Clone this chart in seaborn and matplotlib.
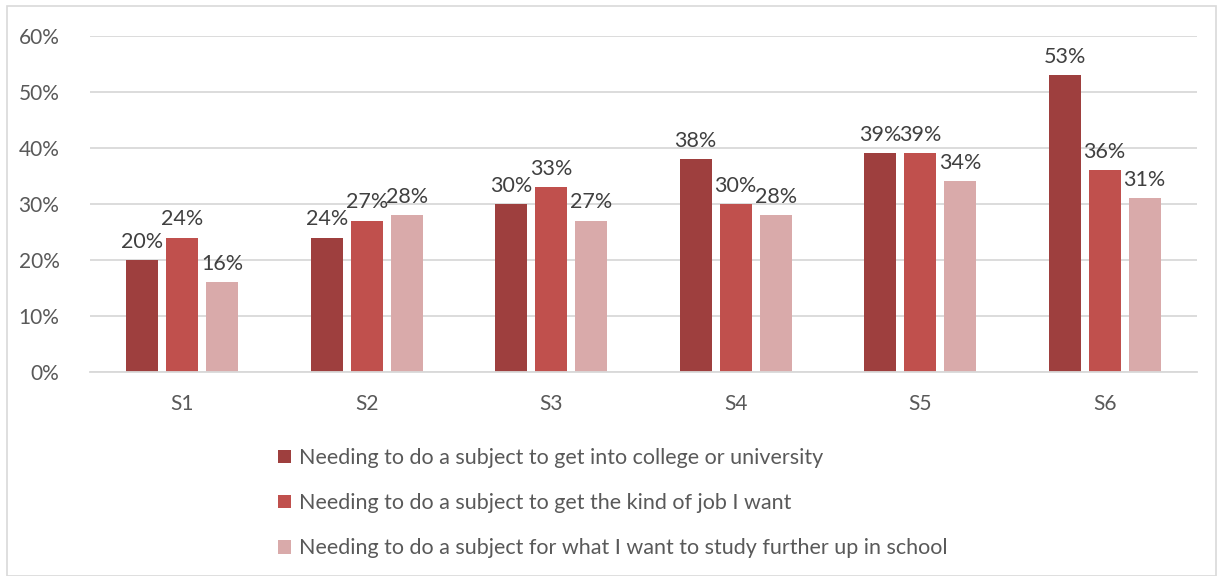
import matplotlib
matplotlib.use("Agg")
import matplotlib.pyplot as plt
import seaborn as sns
import pandas as pd
from matplotlib.patches import Rectangle
from matplotlib.ticker import PercentFormatter

categories = ["S1", "S2", "S3", "S4", "S5", "S6"]
series_names = [
    "Needing to do a subject to get into college or university",
    "Needing to do a subject to get the kind of job I want",
    "Needing to do a subject for what I want to study further up in school",
]
college = [20, 24, 30, 38, 39, 53]
job = [24, 27, 33, 30, 39, 36]
study = [16, 28, 27, 28, 34, 31]
colors = ["#9E3F3E", "#C0504D", "#D9AAAA"]

rows = []
for name, vals in zip(series_names, [college, job, study]):
    for c, v in zip(categories, vals):
        rows.append({"cat": c, "series": name, "value": v})
df = pd.DataFrame(rows)

sns.set_theme(style="white")
plt.rcParams["font.family"] = ["Lato", "DejaVu Sans"]

fig = plt.figure(figsize=(12.23, 5.76), dpi=100)
ax = fig.add_axes([0.0736, 0.354, 0.905, 0.584])

sns.barplot(data=df, x="cat", y="value", hue="series", order=categories,
            hue_order=series_names, palette=colors, width=0.65, gap=0.2,
            saturation=1, ax=ax, legend=True, errorbar=None, linewidth=0)

for cont in ax.containers:
    ax.bar_label(cont, labels=[f"{int(v)}%" for v in cont.datavalues],
                 padding=6, fontsize=15.5, color="#404040")

ax.set_ylim(0, 60)
ax.set_yticks(range(0, 61, 10))
ax.yaxis.set_major_formatter(PercentFormatter(decimals=0))
ax.yaxis.grid(True, color="#D9D9D9", linewidth=1.3)
ax.set_axisbelow(True)
for s in ["top", "right", "left"]:
    ax.spines[s].set_visible(False)
ax.spines["bottom"].set_color("#D9D9D9")
ax.spines["bottom"].set_linewidth(1.3)
ax.set_xlabel("")
ax.set_ylabel("")
ax.tick_params(axis="x", length=0, pad=16, labelsize=15, labelcolor="#595959")
ax.tick_params(axis="y", length=0, pad=22, labelsize=15, labelcolor="#595959")
ax.set_xlim(-0.5, 5.5)

leg = ax.legend(loc="upper left", bbox_to_anchor=(0.1625, -0.2), frameon=False,
                fontsize=15.5, labelcolor="#595959", handlelength=0.6,
                handleheight=0.6, handletextpad=0.35, labelspacing=1.17,
                borderaxespad=0)

fig.patches.append(Rectangle((0.006, 0.0), 0.988, 0.99, transform=fig.transFigure,
                             fill=False, edgecolor="#D9D9D9", linewidth=1.2))

fig.savefig("out.png", dpi=100)
